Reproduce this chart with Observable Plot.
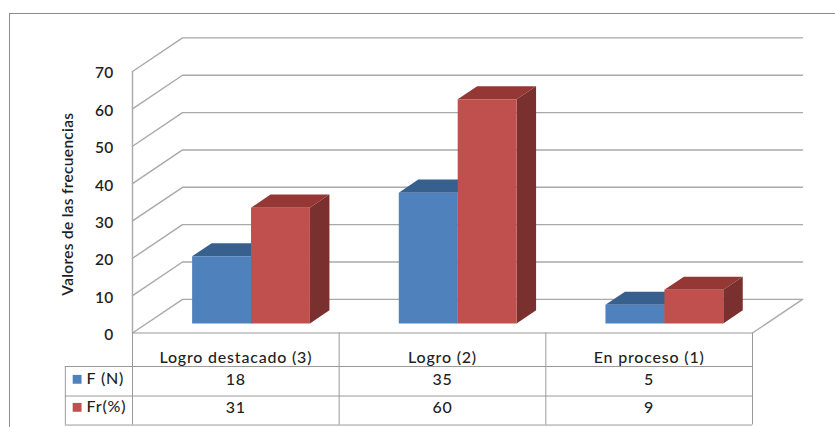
<!DOCTYPE html>
<html lang="es">
<head>
<meta charset="utf-8">
<title>Valores de las frecuencias</title>
<script src="https://cdn.jsdelivr.net/npm/d3@7"></script>
<script src="https://cdn.jsdelivr.net/npm/@observablehq/plot@0.6"></script>
<style>
  html, body { margin: 0; padding: 0; background: #fff; }
  #chart { position: relative; width: 835px; height: 427px; overflow: hidden; }
  #chart svg { position: absolute; left: 0; top: 0; display: block; }
  #chart svg text { letter-spacing: 0.3px; }
  #chart svg .tabla text { letter-spacing: 0.8px; }
  /* Outer chart-area border, open at the right and bottom of the page */
  #border { position: absolute; left: 9px; top: 13px; right: -4px; bottom: -4px;
            border-left: 1px solid #8c8c8c; border-top: 1px solid #8c8c8c; }
</style>
</head>
<body>
<div id="chart"><div id="border"></div></div>
<script>
// Data
const categories = ["Logro destacado (3)", "Logro (2)", "En proceso (1)"];
const frecuencia = [18, 35, 5];
const porcentaje = [31, 60, 9];
const seriesNames = ["F (N)", "Fr(%)"];
const yTicks = [0, 10, 20, 30, 40, 50, 60, 70];

// Oblique projection: x counts categories, y counts value units,
// depth runs from the front of the floor (0) to the back wall (1).
const depthX = 0.242;
const depthY = 9;
const project = (x, value, depth) => ({ x: x + depth * depthX, y: value + depth * depthY });

// Bars sit inside the floor's depth, two to a category.
const barStart = 0.22, barWidth = 0.285;
const depthFront = 0.283, depthBack = 0.673;

const palette = [
  { front: "#4f81bd", top: "#37608f", side: "#2f5078" },
  { front: "#c0504d", top: "#953735", side: "#7a302e" }
];

function face(id, fill, corners) {
  return corners.map(([x, v, d]) => ({ id, fill, ...project(x, v, d) }));
}

const faces = [];
categories.forEach((_, i) => {
  [frecuencia[i], porcentaje[i]].forEach((v, s) => {
    const x0 = i + barStart + s * barWidth, x1 = x0 + barWidth;
    const c = palette[s];
    const key = `${i}-${s}`;
    faces.push(...face(`${key}-top`, c.top, [[x0, v, depthFront], [x1, v, depthFront], [x1, v, depthBack], [x0, v, depthBack]]));
    faces.push(...face(`${key}-side`, c.side, [[x1, 0, depthFront], [x1, v, depthFront], [x1, v, depthBack], [x1, 0, depthBack]]));
    faces.push(...face(`${key}-front`, c.front, [[x0, 0, depthFront], [x1, 0, depthFront], [x1, v, depthFront], [x0, v, depthFront]]));
  });
});

// Gridlines wrap from the left wall's front edge along the back wall.
const n = categories.length;
const grid = yTicks.flatMap(v => [project(0, v, 0), project(0, v, 1), project(n, v, 1)].map(p => ({ ...p, id: v })));
const floorEdge = [project(n, 0, 1), project(n, 0, 0)];

// Data table below the plot, positioned in the same value units.
const ruleRows = [0, -8.97, -16.87, -24.64];
const headerRow = -6.56;
const valueRows = [-12.6, -20.1];
const legendX = -0.325;
const swatchX = -0.268;
const labelX = -0.222;

const tableCells = valueRows.flatMap((y, r) =>
  (r === 0 ? frecuencia : porcentaje).map((v, i) => ({ x: i + 0.5, y, text: String(v) })));
const legendRows = seriesNames.map((name, s) => ({ name, y: valueRows[s] + 0.2, fill: palette[s].front }));

const textColor = "#1f1f1f";
const tableLine = "#9a9a9a";
const labelSize = 15.5;
const tableSize = 16;

const plot = Plot.plot({
  width: 835,
  height: 427,
  marginLeft: 132,
  marginRight: 83,
  marginTop: 71,
  marginBottom: 94.5,
  style: { background: "transparent", fontFamily: "Lato, sans-serif", color: textColor },
  x: { domain: [0, n], axis: null },
  y: { domain: [0, 70], axis: null },
  color: { type: "identity" },
  marks: [
    // Walls and floor
    Plot.line(grid, { x: "x", y: "y", z: "id", stroke: "#a9a9a9", strokeWidth: 1.4 }),
    Plot.line(floorEdge, { x: "x", y: "y", stroke: "#a9a9a9", strokeWidth: 1.4 }),
    Plot.ruleX([0], { y1: 0, y2: 70, stroke: "#a9a9a9", strokeWidth: 1.4 }),

    // Bars, drawn back to front
    Plot.line(faces, { x: "x", y: "y", z: "id", fill: "fill", stroke: "none" }),

    // Value axis
    Plot.axisY({
      ticks: yTicks, tickSize: 0, tickPadding: 19, fontSize: labelSize,
      fontWeight: 600, label: null, dy: 2
    }),
    Plot.text(["Valores de las frecuencias"], {
      x: -0.31, y: 34.5, rotate: -90, fontSize: labelSize, fontWeight: 600, fill: textColor
    }),

    // Data table grid
    Plot.ruleY(ruleRows.slice(0, 1), { x1: 0, x2: n, stroke: tableLine }),
    Plot.ruleY(ruleRows.slice(1), { x1: legendX, x2: n, stroke: tableLine }),
    Plot.ruleX(d3.range(n + 1), { y1: 0, y2: ruleRows[3], stroke: tableLine }),
    Plot.ruleX([legendX], { y1: ruleRows[1], y2: ruleRows[3], stroke: tableLine }),

    // Data table text
    Plot.text(categories, {
      x: (_, i) => i + 0.5, y: headerRow, fontSize: tableSize, fontWeight: 500, fill: textColor, className: "tabla"
    }),
    Plot.text(tableCells, { x: "x", y: "y", text: "text", fontSize: tableSize, fontWeight: 500, fill: textColor, className: "tabla" }),
    Plot.dot(legendRows, { x: swatchX, y: "y", symbol: "square", r: 5, fill: "fill", stroke: "none" }),
    Plot.text(legendRows, {
      x: labelX, y: "y", text: "name", textAnchor: "start", fontSize: tableSize, fontWeight: 500, fill: textColor, className: "tabla"
    })
  ]
});

document.getElementById("chart").appendChild(plot);
</script>
</body>
</html>
